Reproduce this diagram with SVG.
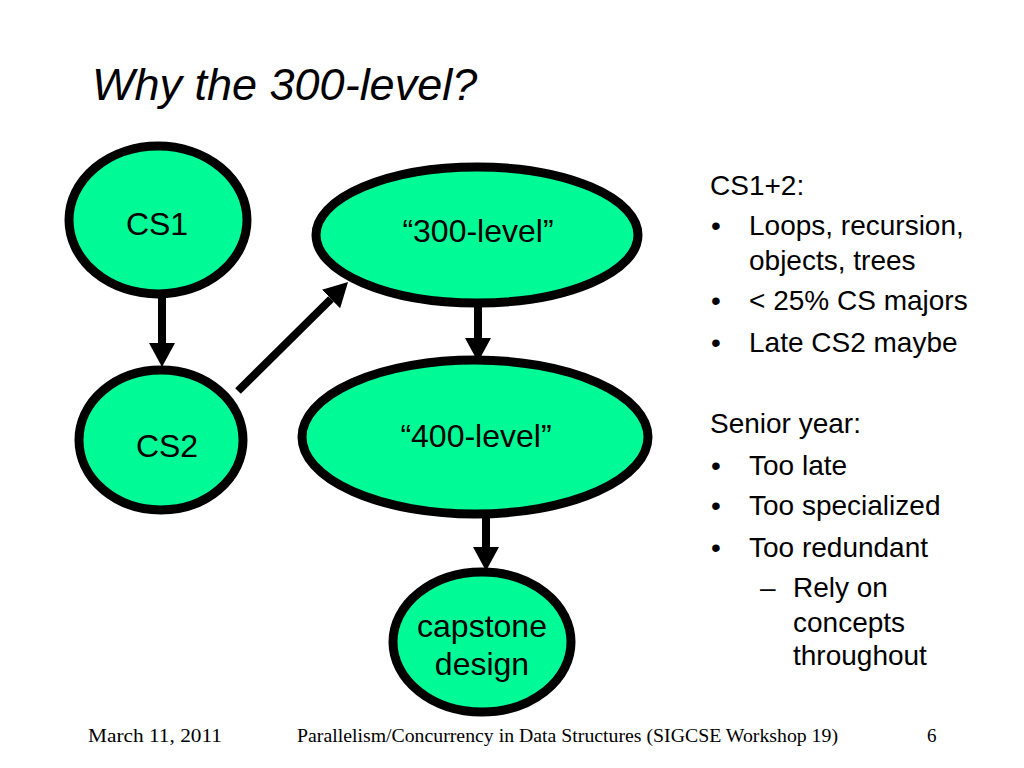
<svg xmlns="http://www.w3.org/2000/svg" width="1024" height="768" viewBox="0 0 1024 768">
<style>
.node{fill:#00FA96;stroke:#000;stroke-width:9}
.lbl{font-family:"Liberation Sans",Arial,sans-serif;font-size:32px;fill:#000;text-anchor:middle}
.txt{font-family:"Liberation Sans",Arial,sans-serif;font-size:28px;fill:#000}
.foot{font-family:"Liberation Serif","Times New Roman",serif;font-size:19px;fill:#000}
.edge{stroke:#000;stroke-width:8;fill:none}
</style>
<defs>
<marker id="ah" markerUnits="userSpaceOnUse" markerWidth="24" markerHeight="26" refX="0" refY="13" orient="auto" viewBox="0 0 24 26">
<path d="M0,0 L24,13 L0,26 Z" fill="#000"/>
</marker>
</defs>
<rect width="1024" height="768" fill="#fff"/>
<text x="92" y="100" font-family="'Liberation Sans',Arial,sans-serif" font-size="45" font-style="italic">Why the 300-level?</text>

<g id="edges">
<line class="edge" x1="162" y1="296" x2="162" y2="343" marker-end="url(#ah)"/>
<line class="edge" x1="238" y1="391" x2="331" y2="299" marker-end="url(#ah)"/>
<line class="edge" x1="478" y1="305" x2="478" y2="338" marker-end="url(#ah)"/>
<line class="edge" x1="486" y1="516" x2="486" y2="547" marker-end="url(#ah)"/>
</g>

<g id="cs1">
<ellipse class="node" cx="158" cy="220" rx="89" ry="74"/>
<text class="lbl" x="157" y="235">CS1</text>
</g>
<g id="cs2">
<ellipse class="node" cx="161" cy="440" rx="82" ry="70"/>
<text class="lbl" x="167" y="457">CS2</text>
</g>
<g id="l300">
<ellipse class="node" cx="477" cy="235" rx="161" ry="68"/>
<text class="lbl" x="478" y="242">“300-level”</text>
</g>
<g id="l400">
<ellipse class="node" cx="475" cy="437" rx="173" ry="77"/>
<text class="lbl" x="476" y="447">“400-level”</text>
</g>
<g id="capstone">
<ellipse class="node" cx="482" cy="642" rx="89" ry="70"/>
<text class="lbl" x="482" y="637">capstone</text>
<text class="lbl" x="482" y="675">design</text>
</g>

<g id="notes" class="txt">
<text x="710" y="195">CS1+2:</text>
<text x="711" y="235">•</text><text x="749" y="235">Loops, recursion,</text>
<text x="749" y="270">objects, trees</text>
<text x="711" y="310">•</text><text x="749" y="310">&lt; 25% CS majors</text>
<text x="711" y="352">•</text><text x="749" y="352">Late CS2 maybe</text>
<text x="710" y="433">Senior year:</text>
<text x="711" y="475">•</text><text x="749" y="475">Too late</text>
<text x="711" y="515">•</text><text x="749" y="515">Too specialized</text>
<text x="711" y="557">•</text><text x="749" y="557">Too redundant</text>
<text x="760" y="597">–</text><text x="793" y="597">Rely on</text>
<text x="793" y="632">concepts</text>
<text x="793" y="665">throughout</text>
</g>

<g id="footer" class="foot">
<text x="88" y="742" textLength="134" lengthAdjust="spacingAndGlyphs">March 11, 2011</text>
<text x="297" y="742" textLength="541" lengthAdjust="spacingAndGlyphs">Parallelism/Concurrency in Data Structures (SIGCSE Workshop 19)</text>
<text x="927" y="742">6</text>
</g>
</svg>
